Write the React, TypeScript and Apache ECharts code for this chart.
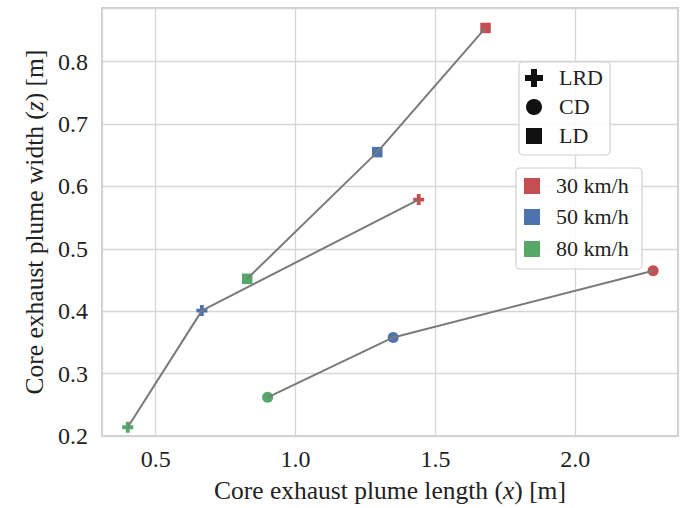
import React, { useEffect, useRef } from "react";
import * as echarts from "echarts";

const speeds = ["30 km/h", "50 km/h", "80 km/h"];
const speedColors = ["#C44E52", "#4C72B0", "#55A868"];
const methods = ["LRD", "CD", "LD"];
// values ordered by speed: 30, 50, 80 km/h
const lrdX = [1.44, 0.665, 0.4];
const lrdY = [0.579, 0.401, 0.214];
const cdX = [2.278, 1.349, 0.9];
const cdY = [0.465, 0.358, 0.262];
const ldX = [1.679, 1.292, 0.827];
const ldY = [0.854, 0.655, 0.452];

const xTitleParts = ["Core exhaust plume length (", "x", ") [m]"];
const yTitleParts = ["Core exhaust plume width (", "z", ") [m]"];

const FONT = "Liberation Serif";
const TXT = "#222222";
const PLUS = "path://M3.6,0H7.4V3.6H11V7.4H7.4V11H3.6V7.4H0V3.6H3.6Z";

export default function App() {
  const ref = useRef<HTMLDivElement>(null);
  useEffect(() => {
    if (!ref.current) return;
    const chart = echarts.init(ref.current, undefined, { renderer: "svg" });
    const groups = [
      { name: methods[0], xs: lrdX, ys: lrdY, symbol: PLUS, size: 11 },
      { name: methods[1], xs: cdX, ys: cdY, symbol: "circle", size: 11 },
      { name: methods[2], xs: ldX, ys: ldY, symbol: "rect", size: 10.5 },
    ];
    const series: any[] = [];
    groups.forEach((g) => {
      series.push({
        type: "scatter",
        name: g.name + " markers",
        symbol: g.symbol,
        symbolSize: g.size,
        z: 2,
        data: g.xs.map((x, i) => ({
          value: [x, g.ys[i]],
          itemStyle: { color: speedColors[i], opacity: 1 },
        })),
      });
      const pts = g.xs.map((x, i) => [x, g.ys[i]]).sort((a, b) => a[0] - b[0]);
      series.push({
        type: "line",
        name: g.name + " line",
        showSymbol: false,
        symbol: "none",
        z: 3,
        lineStyle: { color: "#7a7a7a", width: 2 },
        data: pts,
      });
    });

    const legendText = (t: string, x: number, y: number) => ({
      type: "text",
      left: x,
      top: y - 12,
      style: { text: t, fontFamily: FONT, fontSize: 22, fill: TXT },
    });
    const icons1: any[] = [
      { type: "polygon", shape: { points: [[531, 69], [537, 69], [537, 75], [543, 75], [543, 81], [537, 81], [537, 87], [531, 87], [531, 81], [525, 81], [525, 75], [531, 75]] }, style: { fill: "#111" } },
      { type: "circle", shape: { cx: 534, cy: 107, r: 8 }, style: { fill: "#111" } },
      { type: "rect", shape: { x: 526, y: 128, width: 16, height: 16 }, style: { fill: "#111" } },
    ];

    chart.setOption({
      animation: false,
      backgroundColor: "#ffffff",
      textStyle: { fontFamily: FONT },
      grid: {
        left: 102,
        top: 8,
        right: 9,
        bottom: 70,
        show: true,
        borderColor: "#cccccc",
        borderWidth: 2,
        containLabel: false,
      },
      xAxis: {
        type: "value",
        min: 0.308,
        max: 2.367,
        splitNumber: 5,
        axisLine: { show: false },
        axisTick: { show: false },
        splitLine: { lineStyle: { color: "#d6d6d6", width: 1.3 } },
        axisLabel: {
          showMinLabel: false,
          showMaxLabel: false,
          fontFamily: FONT,
          fontSize: 24,
          color: TXT,
          margin: 11,
          formatter: (v: number) => v.toFixed(1),
        },
        name: `${xTitleParts[0]}{i|${xTitleParts[1]}}${xTitleParts[2]}`,
        nameLocation: "middle",
        nameGap: 41,
        nameTextStyle: {
          fontFamily: FONT,
          fontSize: 25.5,
          color: TXT,
          rich: { i: { fontFamily: FONT, fontStyle: "italic", fontSize: 25.5, color: TXT } },
        },
      },
      yAxis: {
        type: "value",
        min: 0.2,
        max: 0.886,
        splitNumber: 5,
        axisLine: { show: false },
        axisTick: { show: false },
        splitLine: { lineStyle: { color: "#d6d6d6", width: 1.3 } },
        axisLabel: {
          showMaxLabel: false,
          fontFamily: FONT,
          fontSize: 24,
          color: TXT,
          margin: 14,
          formatter: (v: number) => v.toFixed(1),
        },
        name: `${yTitleParts[0]}{i|${yTitleParts[1]}}${yTitleParts[2]}`,
        nameLocation: "middle",
        nameGap: 54,
        nameTextStyle: {
          fontFamily: FONT,
          fontSize: 25.5,
          color: TXT,
          rich: { i: { fontFamily: FONT, fontStyle: "italic", fontSize: 25.5, color: TXT } },
        },
      },
      graphic: [
        {
          type: "rect",
          shape: { x: 519, y: 62, width: 91, height: 93, r: 4 },
          style: { fill: "rgba(255,255,255,0.85)", stroke: "#d0d0d0", lineWidth: 1.2 },
          z: 10,
        },
        ...icons1.map((o) => ({ ...o, z: 11 })),
        { ...legendText(methods[0], 559, 78), z: 11 },
        { ...legendText(methods[1], 559, 107), z: 11 },
        { ...legendText(methods[2], 559, 136), z: 11 },
        {
          type: "rect",
          shape: { x: 516, y: 168, width: 126, height: 101, r: 4 },
          style: { fill: "rgba(255,255,255,0.85)", stroke: "#d0d0d0", lineWidth: 1.2 },
          z: 10,
        },
        ...speeds.map((s, i) => ({
          type: "rect",
          shape: { x: 524, y: [186, 217, 249][i] - 8, width: 16, height: 16 },
          style: { fill: speedColors[i] },
          z: 11,
        })),
        ...speeds.map((s, i) => ({ ...legendText(s, 556, [186, 217, 249][i]), z: 11 })),
      ],
      series,
    });
    return () => chart.dispose();
  }, []);
  return <div ref={ref} style={{ width: 687, height: 508, position: "absolute", left: 0, top: 0 }} />;
}
